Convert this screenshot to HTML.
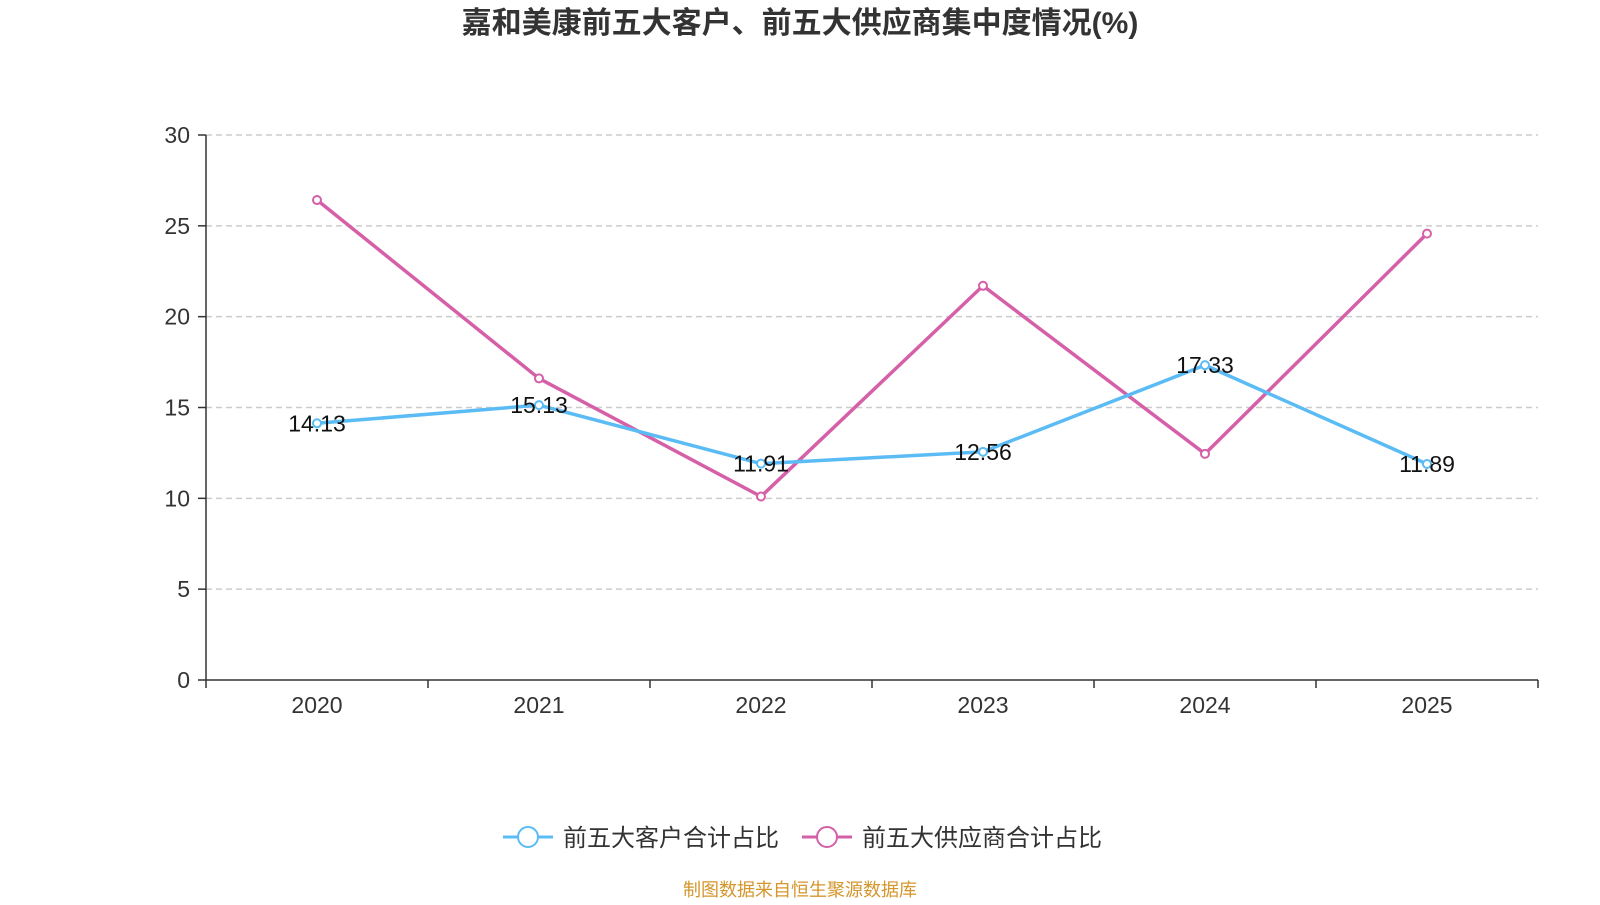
<!DOCTYPE html>
<html><head><meta charset="utf-8"><style>
body{margin:0;background:#fff;width:1600px;height:900px;overflow:hidden;font-family:"Liberation Sans","Noto Sans CJK SC",sans-serif}
</style></head><body>
<svg id="chart" width="1600" height="900">
<text x="800" y="33" text-anchor="middle" font-size="30" font-weight="bold" fill="#333" font-family="Liberation Sans, Noto Sans CJK SC, sans-serif">嘉和美康前五大客户、前五大供应商集中度情况(%)</text>
<g id="grid"></g><g id="axes"></g><g id="series"></g>
<g>
<g><line x1="503" y1="837" x2="553" y2="837" stroke="#5bbcf5" stroke-width="3"/><circle cx="528" cy="837" r="10" fill="#fff" stroke="#5bbcf5" stroke-width="2"/><text x="563" y="846" font-size="24" fill="#333">前五大客户合计占比</text></g>
<g><line x1="802" y1="837" x2="852" y2="837" stroke="#d660a8" stroke-width="3"/><circle cx="827" cy="837" r="10" fill="#fff" stroke="#d660a8" stroke-width="2"/><text x="862" y="846" font-size="24" fill="#333">前五大供应商合计占比</text></g>
</g>
<text x="800" y="896" text-anchor="middle" font-size="18" fill="#d4952b">制图数据来自恒生聚源数据库</text>
</svg>
<script>
const categories=["2020","2021","2022","2023","2024","2025"];
const customers=[14.13,15.13,11.91,12.56,17.33,11.89];
const suppliers=[26.42,16.6,10.1,21.7,12.45,24.57];
const yTicks=[0,5,10,15,20,25,30];
const NS="http://www.w3.org/2000/svg";
const x0=206,x1=1538,yb=680,yt=135,ymax=30;
const step=(x1-x0)/categories.length;
const xs=i=>x0+step*(i+0.5);
const ys=v=>yb-(v/ymax)*(yb-yt);
function mk(t,a,p){const e=document.createElementNS(NS,t);for(const k in a)e.setAttribute(k,a[k]);p.appendChild(e);return e;}
const grid=document.getElementById('grid'),axes=document.getElementById('axes'),ser=document.getElementById('series');
yTicks.forEach(v=>{
 if(v>0){const l=mk('line',{x1:x0,x2:x1,y1:ys(v),y2:ys(v),stroke:'#ccc','stroke-dasharray':'6,4','stroke-width':1.5},grid);
 
 }
 mk('line',{x1:x0-8,x2:x0,y1:ys(v),y2:ys(v),stroke:'#333','stroke-width':1.5},axes);
 const t=mk('text',{x:x0-16,y:ys(v)+8,'text-anchor':'end','font-size':23,fill:'#333'},axes);t.textContent=v;
 
 
});
mk('line',{x1:x0,x2:x0,y1:yt,y2:yb,stroke:'#333','stroke-width':1.5},axes);
mk('line',{x1:x0,x2:x1,y1:yb,y2:yb,stroke:'#333','stroke-width':1.5},axes);
for(let i=0;i<=categories.length;i++)mk('line',{x1:x0+step*i,x2:x0+step*i,y1:yb,y2:yb+8,stroke:'#333','stroke-width':1.5},axes);
categories.forEach((c,i)=>{const t=mk('text',{x:xs(i),y:yb+33,'text-anchor':'middle','font-size':23,fill:'#333'},axes);t.textContent=c;
 
 });
function line(data,color,name,labels){
 const p=mk('polyline',{points:data.map((v,i)=>xs(i)+','+ys(v)).join(' '),fill:'none',stroke:color,'stroke-width':3.5},ser);
 
 
 data.forEach((v,i)=>{const c=mk('circle',{cx:xs(i),cy:ys(v),r:4,fill:'#fff',stroke:color,'stroke-width':2},ser);
  
  
  if(labels){const t=mk('text',{x:xs(i),y:ys(v)+8,'text-anchor':'middle','font-size':23,fill:'#111'},ser);t.textContent=v.toFixed(2);
  
  }
 });
}
line(suppliers,'#d660a8','suppliers',false);
line(customers,'#5bbcf5','customers',true);
</script>
</body></html>
